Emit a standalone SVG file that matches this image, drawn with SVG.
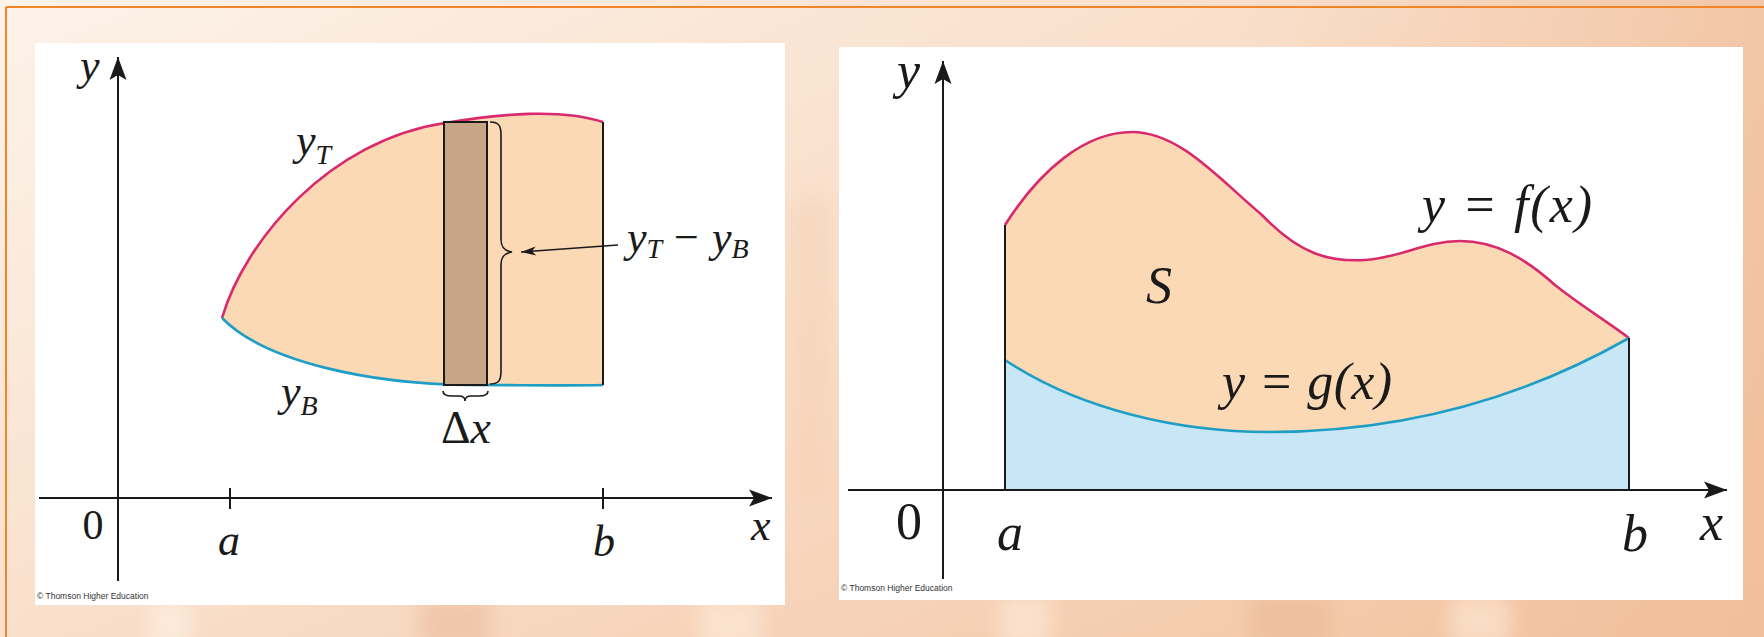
<svg xmlns="http://www.w3.org/2000/svg" width="1764" height="637" viewBox="0 0 1764 637">
  <defs>
    <linearGradient id="bgGrad" x1="0" y1="0" x2="1" y2="1">
      <stop offset="0" stop-color="#fdf3ea"/>
      <stop offset="0.5" stop-color="#f9e0cc"/>
      <stop offset="1" stop-color="#f3c6a4"/>
    </linearGradient>
    <linearGradient id="bgRight" x1="0" y1="0" x2="1" y2="0">
      <stop offset="0" stop-color="#f2c09c" stop-opacity="0"/>
      <stop offset="0.7" stop-color="#f2c09c" stop-opacity="0.15"/>
      <stop offset="1" stop-color="#efbb96" stop-opacity="0.7"/>
    </linearGradient>
    <filter id="blur" x="-50%" y="-50%" width="200%" height="200%">
      <feGaussianBlur stdDeviation="10"/>
    </filter>
    <marker id="axArrow" viewBox="-24 -10 25 20" refX="0" refY="0" markerWidth="25" markerHeight="20" orient="auto" markerUnits="userSpaceOnUse">
      <path d="M0,0 L-23,-8.5 L-18,0 L-23,8.5 Z" fill="#1a1a1a"/>
    </marker>
    <marker id="ptArrow" viewBox="-16 -6 17 12" refX="0" refY="0" markerWidth="17" markerHeight="12" orient="auto" markerUnits="userSpaceOnUse">
      <path d="M0,0 L-15,-4.5 L-11,0 L-15,4.5 Z" fill="#1a1a1a"/>
    </marker>
  </defs>
  <style>
    .axis { stroke: #1a1a1a; stroke-width: 2; fill: none; }
    .edge { stroke: #1a1a1a; stroke-width: 2; fill: none; }
    .brace { stroke: #1a1a1a; stroke-width: 1.6; fill: none; }
    .top { stroke: #d82a6c; stroke-width: 2.6; fill: none; }
    .bot { stroke: #1e9ec4; stroke-width: 2.6; fill: none; }
    .region { fill: #fbd9b5; stroke: none; }
    .lower { fill: #c7e7f7; stroke: none; }
    text { font-family: "Liberation Serif", "Times New Roman", serif; }
    .lbl { font-style: italic; fill: #1a1a1a; }
    .num { font-style: normal; fill: #1a1a1a; }
    .copy { font-family: "Liberation Sans", Arial, sans-serif; font-size: 8.5px; fill: #333333; }
  </style>

  <g id="background">
    <rect x="0" y="0" width="1764" height="637" fill="url(#bgGrad)"/>
    <rect x="0" y="0" width="1764" height="637" fill="url(#bgRight)"/>
    <g filter="url(#blur)" opacity="0.55">
      <rect x="150" y="600" width="40" height="50" fill="#fff4ea"/>
      <rect x="420" y="598" width="70" height="50" fill="#eab896"/>
      <rect x="700" y="600" width="60" height="50" fill="#fff0e2"/>
      <rect x="1000" y="596" width="50" height="50" fill="#fff1e4"/>
      <rect x="1250" y="596" width="80" height="50" fill="#e9b591"/>
      <rect x="1450" y="596" width="60" height="50" fill="#fff0e0"/>
      <rect x="790" y="200" width="40" height="300" fill="#f6d2b5"/>
    </g>
    <line x1="6" y1="7" x2="1764" y2="7" stroke="#f2852a" stroke-width="2"/>
    <line x1="6" y1="7" x2="6" y2="637" stroke="#f2852a" stroke-width="2"/>
  </g>

  <g id="panel-left">
    <rect x="35" y="43" width="750" height="562" fill="#ffffff"/>
    <g id="left-region">
      <path class="region" d="M222,318 C245,240 330,140 445,123 C500,114 560,108 603,122 L603,385 C570,386 520,385 470,385 C370,384 265,362 222,318 Z"/>
      <path class="top" d="M222,318 C245,240 330,140 445,123 C500,114 560,108 603,122"/>
      <path class="bot" d="M222,318 C265,362 370,384 470,385 C520,385 570,386 603,385"/>
      <line class="edge" x1="603" y1="122" x2="603" y2="385"/>
    </g>
    <g id="strip">
      <rect x="444" y="122" width="43" height="263" fill="#c6a687" stroke="#1a1a1a" stroke-width="2"/>
      <path class="brace" d="M490,122 C499,122 501,126 501,135 L501,239 C501,247 504,251 512,252 C504,253 501,257 501,265 L501,371 C501,380 499,384 490,384"/>
      <path class="brace" d="M443,391 C443,395 446,396 452,396 L459,396 C463,396 465,398 465,401 C465,398 467,396 471,396 L479,396 C485,396 488,395 488,391"/>
    </g>
    <g id="left-axes">
      <line class="axis" x1="118" y1="581" x2="118" y2="57" marker-end="url(#axArrow)"/>
      <line class="axis" x1="39" y1="498" x2="772" y2="498" marker-end="url(#axArrow)"/>
      <line class="axis" x1="230" y1="488" x2="230" y2="509"/>
      <line class="axis" x1="603" y1="488" x2="603" y2="509"/>
    </g>
    <g id="left-labels">
      <text class="lbl" x="80" y="80" font-size="44">y</text>
      <text class="num" x="93" y="539" font-size="42" text-anchor="middle">0</text>
      <text class="lbl" x="218" y="555" font-size="44">a</text>
      <text class="lbl" x="593" y="556" font-size="44">b</text>
      <text class="lbl" x="751" y="540" font-size="44">x</text>
      <text class="lbl" x="296" y="155" font-size="44">y<tspan font-size="28" dy="9">T</tspan></text>
      <text class="lbl" x="281" y="406" font-size="44">y<tspan font-size="28" dy="9">B</tspan></text>
      <text class="lbl" x="627" y="252" font-size="44">y<tspan font-size="28" dy="6">T</tspan></text>
      <text class="num" x="674" y="252" font-size="44">−</text>
      <text class="lbl" x="712" y="252" font-size="44">y<tspan font-size="28" dy="6">B</tspan></text>
      <text class="num" x="441" y="443" font-size="46">Δ<tspan font-style="italic">x</tspan></text>
    </g>
    <text class="copy" x="37" y="599">© Thomson Higher Education</text>
  </g>

  <g id="panel-right">
    <rect x="839" y="47" width="904" height="553" fill="#ffffff"/>
    <g id="right-region">
      <path class="lower" d="M1005,490 L1005,360 C1080,410 1180,432 1269,432 C1400,432 1520,400 1629,338 L1629,490 Z"/>
      <path class="region" d="M1005,225 C1040,170 1085,132 1132,132 C1180,132 1220,180 1262,215 C1300,255 1330,262 1365,260 C1400,258 1425,241 1460,241 C1495,241 1525,258 1555,285 C1580,305 1605,320 1629,338 C1520,400 1400,432 1269,432 C1180,432 1080,410 1005,360 Z"/>
      <path class="top" d="M1005,225 C1040,170 1085,132 1132,132 C1180,132 1220,180 1262,215 C1300,255 1330,262 1365,260 C1400,258 1425,241 1460,241 C1495,241 1525,258 1555,285 C1580,305 1605,320 1629,338"/>
      <path class="bot" d="M1005,360 C1080,410 1180,432 1269,432 C1400,432 1520,400 1629,338"/>
      <line class="edge" x1="1005" y1="225" x2="1005" y2="490"/>
      <line class="edge" x1="1629" y1="338" x2="1629" y2="490"/>
    </g>
    <g id="right-axes">
      <line class="axis" x1="943" y1="579" x2="943" y2="61" marker-end="url(#axArrow)"/>
      <line class="axis" x1="848" y1="490" x2="1727" y2="490" marker-end="url(#axArrow)"/>
    </g>
    <g id="right-labels">
      <text class="lbl" x="897" y="88" font-size="52">y</text>
      <text class="num" x="909" y="539" font-size="52" text-anchor="middle">0</text>
      <text class="lbl" x="997" y="550" font-size="52">a</text>
      <text class="lbl" x="1622" y="551" font-size="52">b</text>
      <text class="lbl" x="1700" y="540" font-size="52">x</text>
      <text class="lbl" x="1146" y="303" font-size="52">S</text>
      <text class="lbl" font-size="52" x="1422" y="222" textLength="170" lengthAdjust="spacing">y = f(x)</text>
      <text class="lbl" font-size="52" x="1222" y="399" textLength="170" lengthAdjust="spacing">y = g(x)</text>
    </g>
    <text class="copy" x="841" y="591">© Thomson Higher Education</text>
  </g>

  <g id="connectors">
    <line x1="618" y1="245" x2="521" y2="252" stroke="#1a1a1a" stroke-width="1.6" marker-end="url(#ptArrow)"/>
  </g>
</svg>
